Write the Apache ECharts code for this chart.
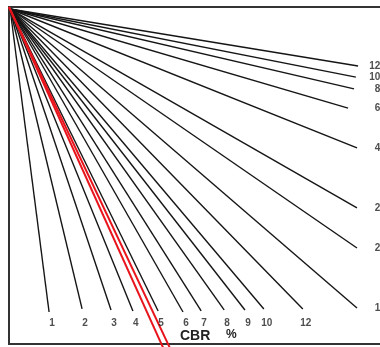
<!DOCTYPE html>
<html>
<head>
<meta charset="utf-8">
<script src="https://cdn.jsdelivr.net/npm/echarts@6/dist/echarts.min.js"></script>
<style>
html, body { margin: 0; padding: 0; background: #fff; overflow: hidden; }
/* wider than the window: the frame's right side sits outside the photo */
#chart { width: 400px; height: 347px; }
</style>
</head>
<body>
<div id="chart"></div>
<script>
// rays of the CBR chart, all leaving the top-left pole
// chart units: about 3.71 px each across, 3.37 px each down
const bottomCbr = ['1', '2', '3', '4', '5', '6', '7', '8', '9', '10', '12']
const bottomEndX = [10.8, 19.7, 27.5, 33.4, 40.2, 46.9, 51.8, 58.0, 63.6, 68.7, 79.2]
const bottomEndY = [90.5, 89.6, 89.9, 90.2, 90.2, 90.5, 90.2, 89.9, 89.9, 89.6, 89.6]

const sideCbr = ['15', '20', '25', '40', '60', '80', '100', '120']
const sideEndX = [93.8, 93.8, 93.8, 93.8, 91.4, 93.0, 93.5, 94.1]
const sideEndY = [89.3, 71.5, 59.6, 41.8, 30.0, 24.3, 20.8, 17.5]

const pole = [0.3, 0.6]
// the red double line drawn over the chart
const redStart = [0, 0]
const redEndX = [41.5, 43.3]
const redEndY = [101, 101]

const bottomLabelY = 93.8
const sideLabelX = 101.6

const rays = []
bottomCbr.forEach((c, i) => rays.push({ name: c, coords: [pole, [bottomEndX[i], bottomEndY[i]]] }))
sideCbr.forEach((c, i) => rays.push({ name: c, coords: [pole, [sideEndX[i], sideEndY[i]]] }))

const redLines = redEndX.map((x, i) => ({ coords: [redStart, [x, redEndY[i]]] }))

const labelFont = {
    fontSize: 10,
    fontWeight: 'bold',
    fontFamily: 'Liberation Sans, Arial, sans-serif',
    color: '#222',
}

const bareAxis = (extra) => Object.assign({
    type: 'value', min: 0, max: 100,
    axisLine: { show: false }, axisTick: { show: false },
    axisLabel: { show: false }, splitLine: { show: false },
}, extra)

const chart = echarts.init(document.getElementById('chart'))
chart.setOption({
    animation: false,
    // the frame is the grid border
    grid: { left: 9, top: 7, right: 10, bottom: 3, show: true, borderColor: '#333', borderWidth: 2, backgroundColor: 'transparent' },
    xAxis: bareAxis({ max: 102.7 }),
    yAxis: bareAxis({ inverse: true }),
    graphic: [
        { type: 'text', left: 180, top: 329, style: { text: 'CBR', font: 'bold 14px Liberation Sans, Arial, sans-serif', fill: '#222' } },
        { type: 'text', left: 226, top: 329, style: { text: '%', font: 'bold 12px Liberation Sans, Arial, sans-serif', fill: '#222' } },
    ],
    series: [
        {
            type: 'lines',
            coordinateSystem: 'cartesian2d',
            silent: true,
            lineStyle: { color: '#151515', width: 1.4, opacity: 1 },
            data: rays,
        },
        {
            type: 'scatter',
            clip: false,
            symbolSize: 0,
            silent: true,
            label: { show: true, position: 'inside', formatter: p => p.name, ...labelFont },
            data: bottomCbr.map((c, i) => ({ name: c, value: [bottomEndX[i] + 0.8, bottomLabelY] })),
        },
        {
            type: 'scatter',
            clip: false,
            symbolSize: 0,
            silent: true,
            label: { show: true, position: 'left', distance: 0, formatter: p => p.name, ...labelFont },
            data: sideCbr.map((c, i) => ({ name: c, value: [sideLabelX, sideEndY[i]] })),
        },
        {
            type: 'lines',
            coordinateSystem: 'cartesian2d',
            clip: false,
            silent: true,
            lineStyle: { color: '#e8141c', width: 2, opacity: 1 },
            data: redLines,
        },
    ],
})
</script>
</body>
</html>
